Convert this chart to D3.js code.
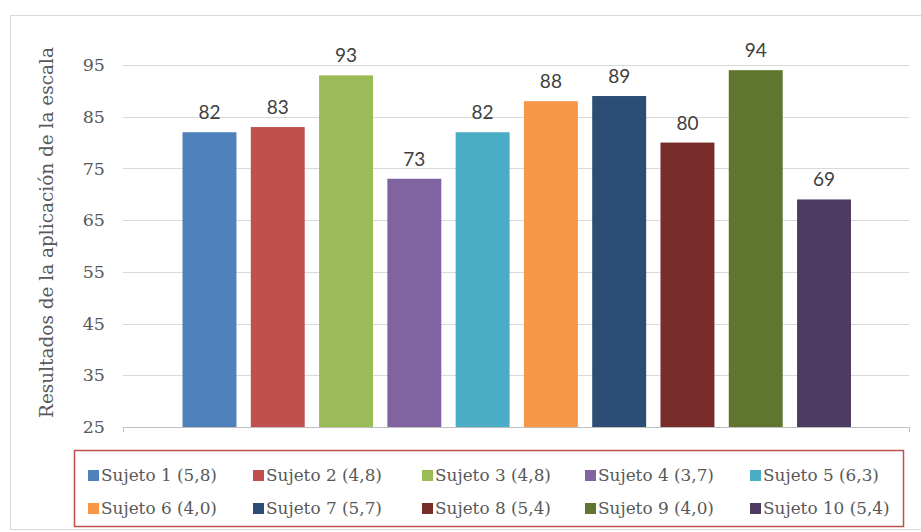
<!DOCTYPE html>
<html><head><meta charset="utf-8">
<script src="https://cdn.jsdelivr.net/npm/d3@7"></script>
<style>body{margin:0;background:#fff;}svg{display:block;}</style>
</head><body><svg id="c" width="921" height="532"></svg>
<script>
const subjects = ["Sujeto 1 (5,8)","Sujeto 2 (4,8)","Sujeto 3 (4,8)","Sujeto 4 (3,7)","Sujeto 5 (6,3)","Sujeto 6 (4,0)","Sujeto 7 (5,7)","Sujeto 8 (5,4)","Sujeto 9 (4,0)","Sujeto 10 (5,4)"];
const values = [82,83,93,73,82,88,89,80,94,69];
const colors = ["#4F81BD","#C0504D","#9BBB59","#8064A2","#4BACC6","#F79646","#2C4D75","#772C2A","#5F7530","#4D3B62"];
const yTicks = [25,35,45,55,65,75,85,95];
const yLabel = "Resultados de la aplicación de la escala";

const svg = d3.select("#c");
const serif = "'DejaVu Serif', serif";
const sans = "Lato, 'Open Sans', sans-serif";

function fitFont(sel, base, target){
  const w = sel.node().getComputedTextLength();
  sel.attr("font-size", base*target/w);
}

// outer frame
svg.append("rect").attr("x",10.5).attr("y",15.5).attr("width",930).attr("height",514)
  .attr("fill","#fff").attr("stroke","#d9d9d9").attr("stroke-width",1);

const plot = {left:123, right:909, top:65, bottom:427};
const y = d3.scaleLinear().domain([25,95]).range([plot.bottom, plot.top]);
const x = d3.scaleBand().domain(subjects).range([182.5,851]).paddingInner(0.21);

// gridlines
svg.append("g").selectAll("line").data(yTicks.filter(t=>t!==25)).join("line")
  .attr("x1",plot.left).attr("x2",plot.right)
  .attr("y1",d=>Math.round(y(d))+0.5).attr("y2",d=>Math.round(y(d))+0.5)
  .attr("stroke","#d9d9d9").attr("stroke-width",1);

// y axis
const yAxis = svg.append("g").attr("transform",`translate(${plot.left-14},0)`)
  .call(d3.axisLeft(y).tickValues(yTicks).tickSize(0).tickPadding(4));
yAxis.select(".domain").remove();
yAxis.selectAll("text").attr("font-family",serif).attr("font-size",17.5).attr("fill","#595959");

// bars
svg.append("g").selectAll("rect").data(values).join("rect")
  .attr("x",(d,i)=>x(subjects[i])).attr("width",x.bandwidth())
  .attr("y",d=>y(d)).attr("height",d=>y(25)-y(d))
  .attr("fill",(d,i)=>colors[i]);

// bottom axis
const xAxisG = svg.append("g");
xAxisG.append("line").attr("x1",plot.left).attr("x2",plot.right)
  .attr("y1",plot.bottom+0.5).attr("y2",plot.bottom+0.5).attr("stroke","#bfbfbf");
xAxisG.selectAll("line.t").data([plot.left,plot.right]).join("line").attr("class","t")
  .attr("x1",d=>d+0.5).attr("x2",d=>d+0.5).attr("y1",plot.bottom).attr("y2",plot.bottom+5)
  .attr("stroke","#bfbfbf");

// value labels
svg.append("g").selectAll("text").data(values).join("text")
  .attr("x",(d,i)=>x(subjects[i])+x.bandwidth()/2).attr("y",d=>y(d)-13)
  .attr("text-anchor","middle").attr("font-family",sans).attr("font-size",19)
  .attr("fill","#404040").text(d=>d);

// y label
const yl = svg.append("text").attr("transform",`translate(53,232.5) rotate(-90)`)
  .attr("text-anchor","middle").attr("font-family",serif).attr("font-size",17)
  .attr("fill","#595959").text(yLabel);
fitFont(yl,17,371);

// legend
const lg = svg.append("g");
lg.append("rect").attr("x",74.5).attr("y",450.5).attr("width",829).attr("height",76)
  .attr("fill","#fff").attr("stroke","#C0504D").attr("stroke-width",1.5);
const colX = [88,253,422,585,750];
const rowY = [475,508];
const items = lg.selectAll("g").data(subjects).join("g")
  .attr("transform",(d,i)=>`translate(${colX[i%5]},${rowY[Math.floor(i/5)]})`);
items.append("rect").attr("x",0).attr("y",-5).attr("width",11).attr("height",11)
  .attr("fill",(d,i)=>colors[i]);
const lt = items.append("text").attr("x",13).attr("y",0).attr("dy","0.35em")
  .attr("font-family",serif).attr("font-size",16).attr("fill","#595959").text(d=>d);
const w0 = lt.nodes()[0].getComputedTextLength();
lt.attr("font-size",16*116/w0);
</script></body></html>
